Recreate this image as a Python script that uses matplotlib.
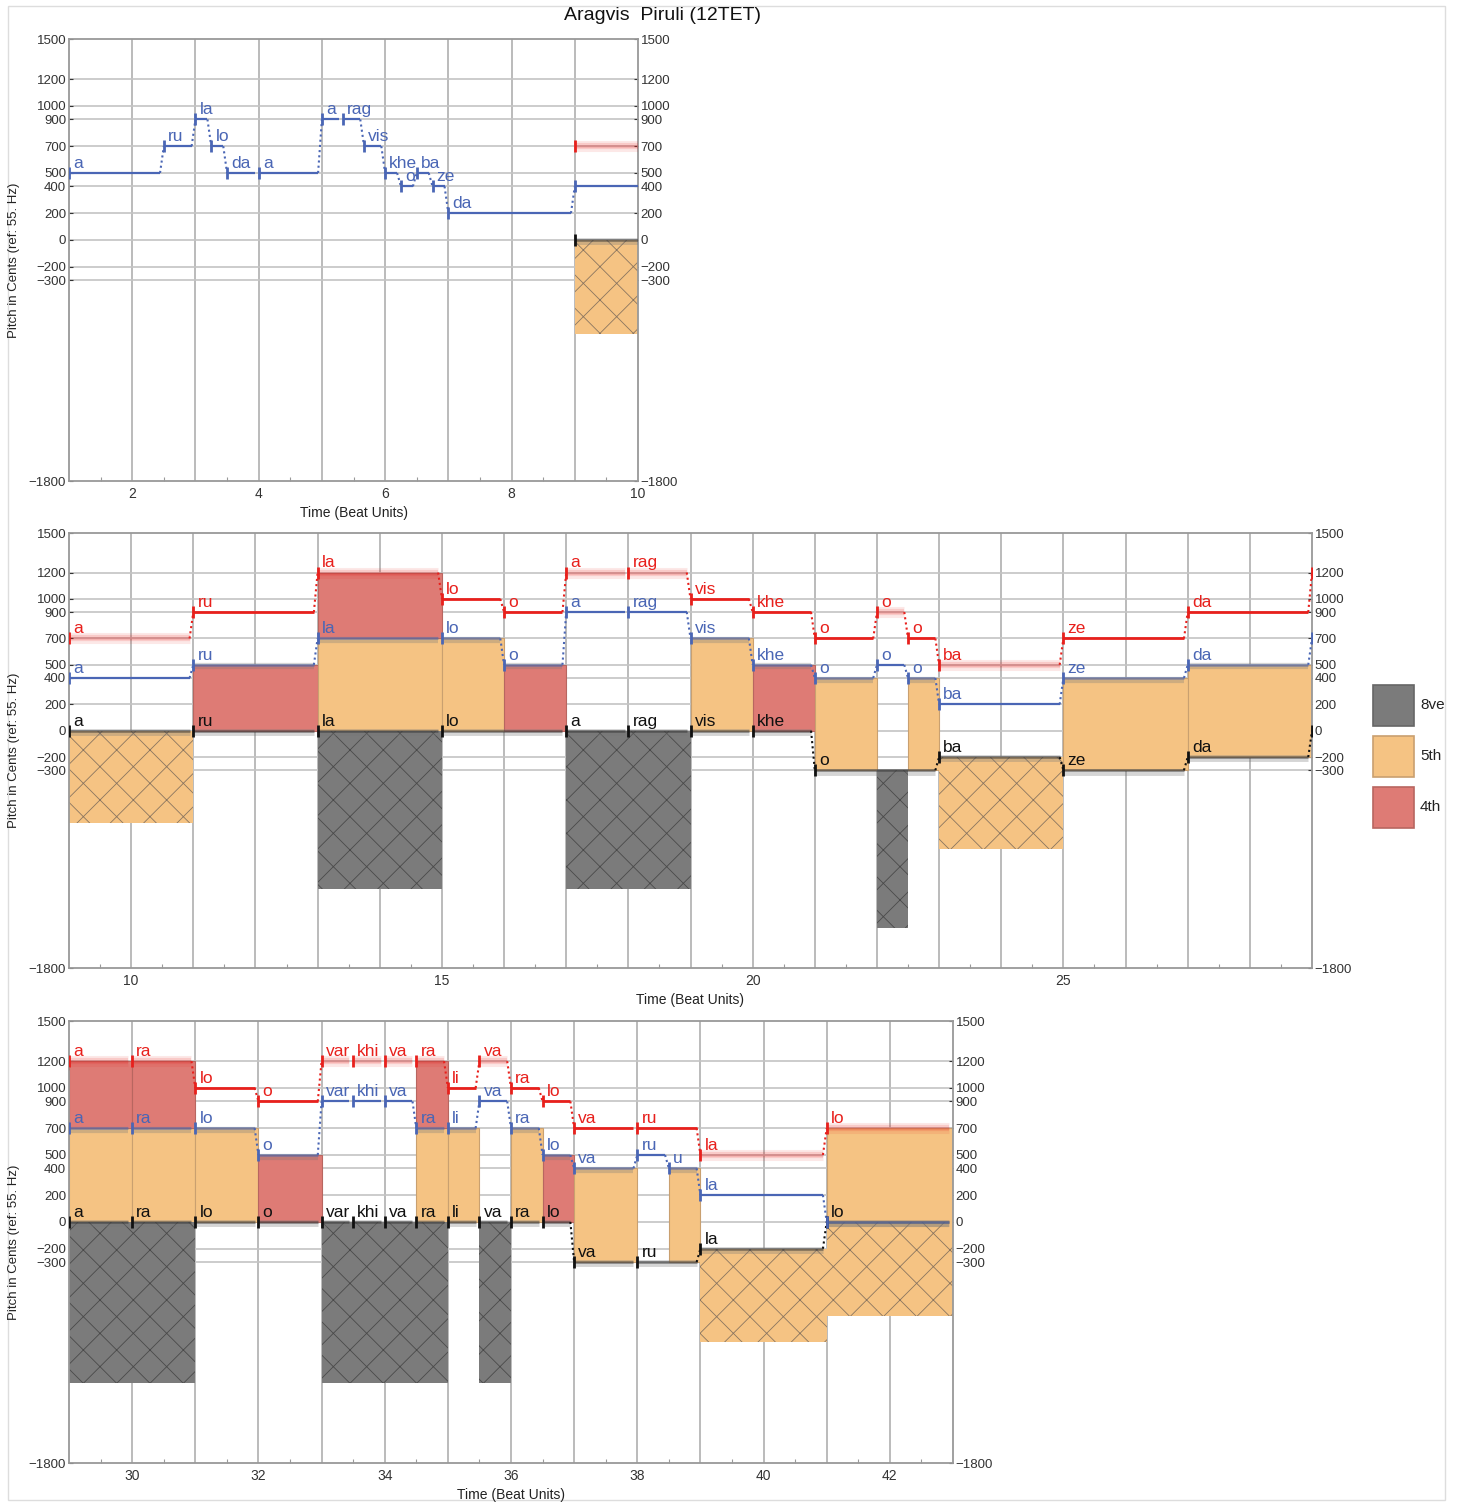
import matplotlib
matplotlib.use('Agg')
import matplotlib.pyplot as plt
from matplotlib.patches import Rectangle

plt.rcParams['font.family'] = ['Liberation Sans', 'DejaVu Sans']
plt.rcParams['hatch.linewidth'] = 0.6

# ---------------- data ----------------
title = "Aragvis  Piruli (12TET)"

# solo melody (top voice in blue, before the three-voice part)
solo_syll = ["a", "ru", "la", "lo", "da", "a", "a", "rag", "vis", "khe", "o", "ba", "ze", "da"]
solo_start = [1, 2.5, 3, 3.25, 3.5, 4, 5, 5.333, 5.667, 6, 6.25, 6.5, 6.75, 7]
solo_pitch = [500, 700, 900, 700, 500, 500, 900, 900, 700, 500, 400, 500, 400, 200]

# upper voice (red)
red_syll = ["a", "ru", "la", "lo", "o", "a", "rag", "vis", "khe", "o", "o", "o", "ba", "ze", "da",
            "a", "ra", "lo", "o", "var", "khi", "va", "ra", "li", "va", "ra", "lo", "va", "ru", "la", "lo"]
red_start = [9, 11, 13, 15, 16, 17, 18, 19, 20, 21, 22, 22.5, 23, 25, 27,
             29, 30, 31, 32, 33, 33.5, 34, 34.5, 35, 35.5, 36, 36.5, 37, 38, 39, 41]
red_pitch = [700, 900, 1200, 1000, 900, 1200, 1200, 1000, 900, 700, 900, 700, 500, 700, 900,
             1200, 1200, 1000, 900, 1200, 1200, 1200, 1200, 1000, 1200, 1000, 900, 700, 700, 500, 700]

# middle voice (blue)
blue_syll = ["a", "ru", "la", "lo", "o", "a", "rag", "vis", "khe", "o", "o", "o", "ba", "ze", "da",
             "a", "ra", "lo", "o", "var", "khi", "va", "ra", "li", "va", "ra", "lo", "va", "ru", "u", "la", "lo"]
blue_start = [9, 11, 13, 15, 16, 17, 18, 19, 20, 21, 22, 22.5, 23, 25, 27,
              29, 30, 31, 32, 33, 33.5, 34, 34.5, 35, 35.5, 36, 36.5, 37, 38, 38.5, 39, 41]
blue_pitch = [400, 500, 700, 700, 500, 900, 900, 700, 500, 400, 500, 400, 200, 400, 500,
              700, 700, 700, 500, 900, 900, 900, 700, 700, 900, 700, 500, 400, 500, 400, 200, 0]

# bass voice (black)
bass_syll = ["a", "ru", "la", "lo", "a", "rag", "vis", "khe", "o", "ba", "ze", "da",
             "a", "ra", "lo", "o", "var", "khi", "va", "ra", "li", "va", "ra", "lo", "va", "ru", "la", "lo"]
bass_start = [9, 11, 13, 15, 17, 18, 19, 20, 21, 23, 25, 27,
              29, 30, 31, 32, 33, 33.5, 34, 34.5, 35, 35.5, 36, 36.5, 37, 38, 39, 41]
bass_pitch = [0, 0, 0, 0, 0, 0, 0, 0, -300, -200, -300, -200,
              0, 0, 0, 0, 0, 0, 0, 0, 0, 0, 0, 0, -300, -300, -200, 0]

piece_end = 43

ytick_vals = [1500, 1200, 1000, 900, 700, 500, 400, 200, 0, -200, -300, -1800]
interval_names = ["8ve", "5th", "4th"]
interval_cents = [1200, 700, 500]

panel_xlim = [(1, 10), (9, 29), (29, 43)]
panel_xticks = [[2, 4, 6, 8, 10], [10, 15, 20, 25], [30, 32, 34, 36, 38, 40, 42]]

# ---------------- styles ----------------
W, H = 1457, 1502
C_RED = '#e8201c'
C_BLUE = '#4a66b5'
C_BLACK = '#111111'
fill_col = {1200: '#7b7b7b', 700: '#f5c383', 500: '#de7b75'}
hatch_col = {1200: '#4a4a4a', 700: '#8a7560', 500: '#8a5550'}
edge_col = {1200: '#666666', 700: '#c9a070', 500: '#b86660'}
GAP = 0.06

fig = plt.figure(figsize=(W / 100, H / 100), dpi=100)
fig.patches.append(Rectangle((8 / W, 1 - 1500 / H), 1437 / W, 1494 / H, transform=fig.transFigure,
                             fill=False, ec='#dddddd', lw=1.0))


def box(l, t, r, b):
    return [l / W, 1 - b / H, (r - l) / W, (b - t) / H]


axes = [fig.add_axes(box(69, 39, 638, 481)),
        fig.add_axes(box(69, 533, 1312, 968)),
        fig.add_axes(box(69, 1021, 953, 1463))]


def pitch_at(starts, pitches, t):
    idx = None
    for i, s in enumerate(starts):
        if s <= t + 1e-9:
            idx = i
    return None if idx is None else pitches[idx]


# segments of the three-voice part
bounds = sorted(set(red_start + blue_start + bass_start + [piece_end]))
segments = []
for t0, t1 in zip(bounds[:-1], bounds[1:]):
    tm = 0.5 * (t0 + t1)
    r = pitch_at(red_start, red_pitch, tm)
    b = pitch_at(blue_start, blue_pitch, tm)
    k = pitch_at(bass_start, bass_pitch, tm)
    segments.append((t0, t1, r, b, k))


def seg_flags(t0, t1):
    bk = rb = rk = False
    for s0, s1, r, b, k in segments:
        if s0 >= t0 - 1e-9 and s1 <= t1 + 1e-9:
            if (b - k) in interval_cents:
                bk = True
            if (r - b) in interval_cents:
                rb = True
            if (r - k) in interval_cents:
                rk = True
    return bk, rb, rk


def draw_voice(ax, starts, pitches, sylls, end, color, kind, lab_range, prev=None, hide_lab=None):
    ends = list(starts[1:]) + [end]
    for i, (s, e, p, syl) in enumerate(zip(starts, ends, pitches, sylls)):
        x1 = e - GAP
        bk, rb, rk = seg_flags(s, e) if s >= 9 else (False, False, False)
        if kind == 'red' and rk:
            ax.plot([s, x1], [p, p], color=color, lw=8, alpha=0.10, solid_capstyle='butt', zorder=5)
            ax.plot([s, x1], [p, p], color=color, lw=4.5, alpha=0.15, solid_capstyle='butt', zorder=5)
            ax.plot([s, x1], [p, p], color=color, lw=2, alpha=0.15, solid_capstyle='butt', zorder=5)
        elif kind == 'blue' and (bk or rb):
            ax.plot([s, x1], [p - 12, p - 12], color='#777777', lw=4.5, alpha=0.30, solid_capstyle='butt', zorder=5)
            ax.plot([s, x1], [p, p], color=color, lw=1.8, alpha=0.55, solid_capstyle='butt', zorder=5)
        elif kind == 'black':
            ax.plot([s, x1], [p - 10, p - 10], color='#777777', lw=5, alpha=0.30, solid_capstyle='butt', zorder=5)
            ax.plot([s, x1], [p, p], color='#333333', lw=1.8, alpha=0.55, solid_capstyle='butt', zorder=5)
        elif kind == 'red':
            ax.plot([s, x1], [p, p], color=color, lw=2, solid_capstyle='butt', zorder=6)
        else:
            ax.plot([s, x1], [p, p], color=color, lw=1.6, solid_capstyle='butt', zorder=6)
        ax.plot([s], [p], marker='|', ms=9, mew=2, color=color, zorder=7)
        # dotted connector from previous note
        pp = pitches[i - 1] if i > 0 else prev
        if pp is not None and pp != p:
            ax.plot([s - GAP, s], [pp, p], color=color, lw=1.5, ls=(0, (1, 1.5)), zorder=6)
        if hide_lab is not None and hide_lab(s, p):
            continue
        if lab_range[0] <= s < lab_range[1]:
            ax.annotate(syl, (s, p), xytext=(3, 1.5), textcoords='offset points', ha='left', va='bottom',
                        fontsize=12.5, color=color, zorder=8, annotation_clip=True)


label_ranges = [(1, 9), (9, 29), (29, 43)]


def blue_hidden(s, p):
    # blue label coinciding with the bass note is covered by the bass label
    k = pitch_at(bass_start, bass_pitch, s + 0.01)
    return k is not None and k == p and s in bass_start


for pi, ax in enumerate(axes):
    x0, x1 = panel_xlim[pi]
    ax.set_xlim(x0, x1)
    ax.set_ylim(-1800, 1500)
    for xv in range(x0 + 1, x1):
        ax.axvline(xv, color='#b5b5b5', lw=1.3, zorder=0.5)
    for yv in ytick_vals[1:-1]:
        ax.axhline(yv, color='#c4c4c4', lw=1.2, zorder=0.5)
    ax.set_yticks(ytick_vals)
    ax.set_xticks(panel_xticks[pi])
    ax.set_xticks([x0 + 0.5 + j for j in range(x1 - x0)], minor=True)
    ax.tick_params(axis='y', which='both', left=True, right=True, labelleft=True, labelright=True,
                   direction='in', length=3, pad=2, labelsize=9.5, colors='#333333')
    ax.tick_params(axis='x', which='major', direction='in', length=0, pad=4, labelsize=10, colors='#333333')
    ax.tick_params(axis='x', which='minor', direction='in', length=3, width=0.8, color='#999999')
    for sp in ax.spines.values():
        sp.set_color('#999999')
        sp.set_linewidth(1.3)

    # interval rectangles
    for t0, t1, r, b, k in segments:
        if t1 <= x0 or t0 >= x1:
            continue
        if (b - k) in interval_cents:
            c = b - k
            ax.add_patch(Rectangle((t0, k), t1 - t0, c, fc=fill_col[c], ec=edge_col[c], lw=0.8, zorder=2))
        if (r - b) in interval_cents:
            c = r - b
            ax.add_patch(Rectangle((t0, b), t1 - t0, c, fc=fill_col[c], ec=edge_col[c], lw=0.8, zorder=2))
        if (r - k) in interval_cents:
            c = r - k
            ax.add_patch(Rectangle((t0, k - c), t1 - t0, c, fc=fill_col[c], ec=hatch_col[c], lw=0,
                                   hatch='x', zorder=2))

    lr = label_ranges[pi]
    # voices
    draw_voice(ax, bass_start, bass_pitch, bass_syll, piece_end, C_BLACK, 'black', lr)
    if pi == 0:
        draw_voice(ax, solo_start, solo_pitch, solo_syll, solo_start[-1] + 2, C_BLUE, 'solo', lr)
    draw_voice(ax, blue_start, blue_pitch, blue_syll, piece_end, C_BLUE, 'blue', lr,
               prev=solo_pitch[-1], hide_lab=blue_hidden)
    draw_voice(ax, red_start, red_pitch, red_syll, piece_end, C_RED, 'red', lr)

    # axis labels
    pos = ax.get_position()
    fig.text(14 / W, pos.y0 + pos.height / 2, "Pitch in Cents (ref: 55. Hz)", rotation=90,
             ha='center', va='center', fontsize=9.5, color='#222222')
    fig.text(pos.x0 + pos.width / 2, pos.y0 - 32 / H, "Time (Beat Units)", ha='center', va='center',
             fontsize=10, color='#222222')

fig.text(663 / W, 1 - 15 / H, title, ha='center', va='center', fontsize=14, color='#111111')

# legend
for i, (nm, c) in enumerate(zip(interval_names, interval_cents)):
    top = 685 + i * 51
    fig.patches.append(Rectangle((1373 / W, 1 - (top + 41) / H), 41 / W, 41 / H, transform=fig.transFigure,
                                 fc=fill_col[c], ec=edge_col[c], lw=1.2))
    fig.text(1420 / W, 1 - (top + 20) / H, nm, ha='left', va='center', fontsize=11, color='#222222')

fig.savefig('out.png', dpi=100)
